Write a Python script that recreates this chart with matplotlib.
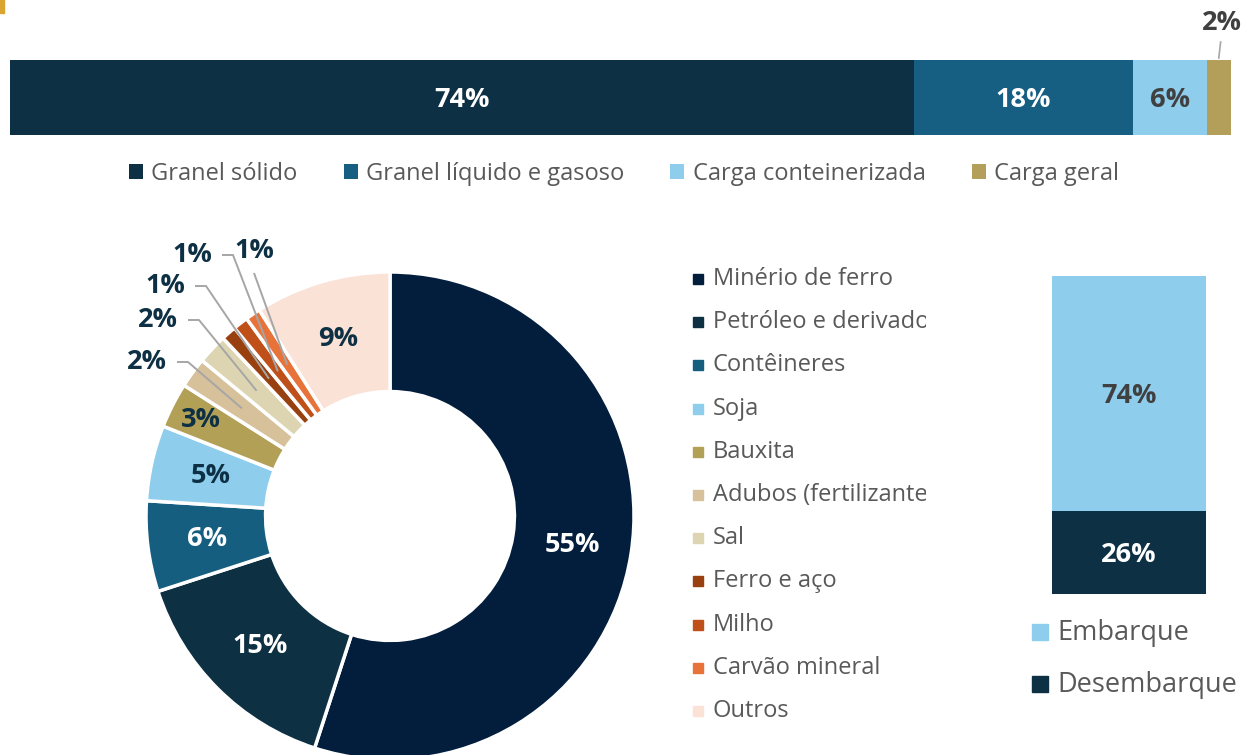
import matplotlib
matplotlib.use("Agg")
import matplotlib.pyplot as plt
import numpy as np
from matplotlib.patches import Rectangle

plt.rcParams['font.family'] = ['Open Sans', 'DejaVu Sans']

# ---------------- data ----------------
top_categories = ["Granel sólido", "Granel líquido e gasoso", "Carga conteinerizada", "Carga geral"]
top_values = [74, 18, 6, 2]
top_colors = ["#0d3044", "#165f82", "#8ecdeb", "#b39f59"]

pie_categories = ["Minério de ferro", "Petróleo e derivados", "Contêineres", "Soja", "Bauxita",
                  "Adubos (fertilizantes)", "Sal", "Ferro e aço", "Milho", "Carvão mineral", "Outros"]
pie_values = [55, 15, 6, 5, 3, 2, 2, 1, 1, 1, 9]
pie_colors = ["#021e3c", "#0d3043", "#165e80", "#8ecdeb", "#b3a057", "#d7c19b", "#ddd5b2",
              "#98400f", "#c0501a", "#e8733a", "#fbe2d6"]

flow_categories = ["Desembarque", "Embarque"]
flow_values = [26, 74]
flow_colors = ["#0d3044", "#8ecdeb"]

W, H = 1242, 755
fig = plt.figure(figsize=(W / 100, H / 100), dpi=100)
fig.patch.set_facecolor("white")

def fax(x0, y0, x1, y1):
    """axes from pixel box (top-left origin)"""
    return fig.add_axes([x0 / W, 1 - y1 / H, (x1 - x0) / W, (y1 - y0) / H])

DARK = "#0d3044"
GREY = "#404040"
LEG = "#595959"
LBL = 19.5   # bold data-label size

# gold accent at top-left
fig.patches.append(Rectangle((0, 1 - 13 / H), 4 / W, 13 / H, transform=fig.transFigure,
                             color="#d9a430"))

# ---------------- top stacked bar ----------------
axt = fax(10, 60, 1231, 135)
left = 0
top_txt_colors = ["white", "white", GREY, GREY]
for i, (cat, v, c) in enumerate(zip(top_categories, top_values, top_colors)):
    axt.barh(0, v, left=left, color=c, height=1.0, label=cat)
    if i < 3:
        axt.text(left + v / 2, 0.03, f"{v}%", ha="center", va="center", fontsize=LBL,
                 fontweight="bold", color=top_txt_colors[i])
    left += v
axt.set_xlim(0, sum(top_values))
axt.set_ylim(0.5, -0.5)   # y grows downward: 75 px per unit
axt.axis("off")
# small last segment: label above with short leader
xm = sum(top_values[:-1]) + top_values[-1] / 2
axt.text(xm + 0.25, -0.5 - 37 / 75, f"{top_values[-1]}%", ha="center", va="center",
         fontsize=LBL, fontweight="bold", color=GREY, clip_on=False)
axt.plot([xm + 0.15, xm - 0.0], [-0.5 - 18 / 75, -0.5 - 2 / 75], color="#a6a6a6", lw=1.2,
         clip_on=False)

h, l = axt.get_legend_handles_labels()
fig.legend(h, l, loc="center", bbox_to_anchor=(624 / W, 1 - 174 / H), ncol=4, frameon=False,
           fontsize=17, handlelength=0.6, handleheight=0.6, handletextpad=0.35,
           columnspacing=1.95, labelcolor=LEG, borderpad=0)

# ---------------- donut ----------------
R = 244
cx, cy = 390, 516
axp = fax(cx - R, cy - R, cx + R, cy + R)
wedges, _ = axp.pie(pie_values, colors=pie_colors, startangle=90, counterclock=False,
                    radius=1.0, wedgeprops=dict(width=0.49, edgecolor="white", linewidth=2.5))
axp.set_xlim(-1, 1)
axp.set_ylim(-1, 1)
axp.set_aspect("equal")
axp.axis("off")
for w in wedges:
    w.set_clip_on(False)

total = sum(pie_values)
cum = 0
inside_r = {0: 0.755, 1: 0.755, 2: 0.755, 3: 0.755, 4: 0.87, 10: 0.755}
inside_col = {0: "white", 1: "white", 2: "white", 3: DARK, 4: DARK, 10: DARK}
# outside label text positions (pixels) for small slices
outside_txt = {5: (147, 362), 6: (158, 320), 7: (165, 286), 8: (192, 255), 9: (254, 251)}
for i, v in enumerate(pie_values):
    mid = 90 - (cum + v / 2) / total * 360
    cum += v
    a = np.deg2rad(mid)
    if i in inside_r:
        r = inside_r[i]
        axp.text(r * np.cos(a), r * np.sin(a), f"{v}%", ha="center", va="center",
                 fontsize=LBL, fontweight="bold", color=inside_col[i])
    else:
        px, py = outside_txt[i]
        tx, ty = (px - cx) / R, (cy - py) / R
        r = 0.75
        ex, ey = r * np.cos(a), r * np.sin(a)
        axp.text(tx, ty, f"{v}%", ha="center", va="center", fontsize=LBL,
                 fontweight="bold", color=DARK)
        if i == 9:
            xs = [tx, ex]
            ys = [ty - 22 / R, ey]
        else:
            xs = [tx + 30 / R, tx + 41 / R, ex]
            ys = [ty, ty, ey]
        axp.plot(xs, ys, color="#a6a6a6", lw=1.4, clip_on=False, solid_capstyle="butt")

# ---------------- donut legend (clipped) ----------------
axl = fax(688, 255, 926, 735)
axl.set_xlim(688, 926)
axl.set_ylim(735, 255)
axl.axis("off")
for i, (cat, c) in enumerate(zip(pie_categories, pie_colors)):
    y = 279 + i * 43.2
    axl.add_patch(Rectangle((693, y - 5), 10, 10, color=c))
    t = axl.text(713, y, cat, ha="left", va="center", fontsize=17, color=LEG)
    t.set_clip_on(True)

# ---------------- right stacked bar ----------------
axr = fax(1052, 276, 1206, 594)
bottom = 0
flow_txt = ["white", GREY]
for i, (cat, v, c) in enumerate(zip(flow_categories, flow_values, flow_colors)):
    axr.bar(0, v, bottom=bottom, color=c, width=1.0, label=cat)
    axr.text(0, bottom + v / 2 - 0.8, f"{v}%", ha="center", va="center", fontsize=LBL,
             fontweight="bold", color=flow_txt[i])
    bottom += v
axr.set_xlim(-0.5, 0.5)
axr.set_ylim(0, sum(flow_values))
axr.axis("off")

# right legend drawn in a pixel-space overlay
axg = fax(1020, 610, 1242, 710)
axg.set_xlim(1020, 1242)
axg.set_ylim(710, 610)
axg.axis("off")
for j, k in enumerate([1, 0]):
    y = 632 + j * 52
    axg.add_patch(Rectangle((1032, y - 8), 16, 16, color=flow_colors[k]))
    axg.text(1057, y + 1, flow_categories[k], ha="left", va="center", fontsize=19.5, color=LEG,
             clip_on=False)

fig.savefig("out.png", dpi=100)
